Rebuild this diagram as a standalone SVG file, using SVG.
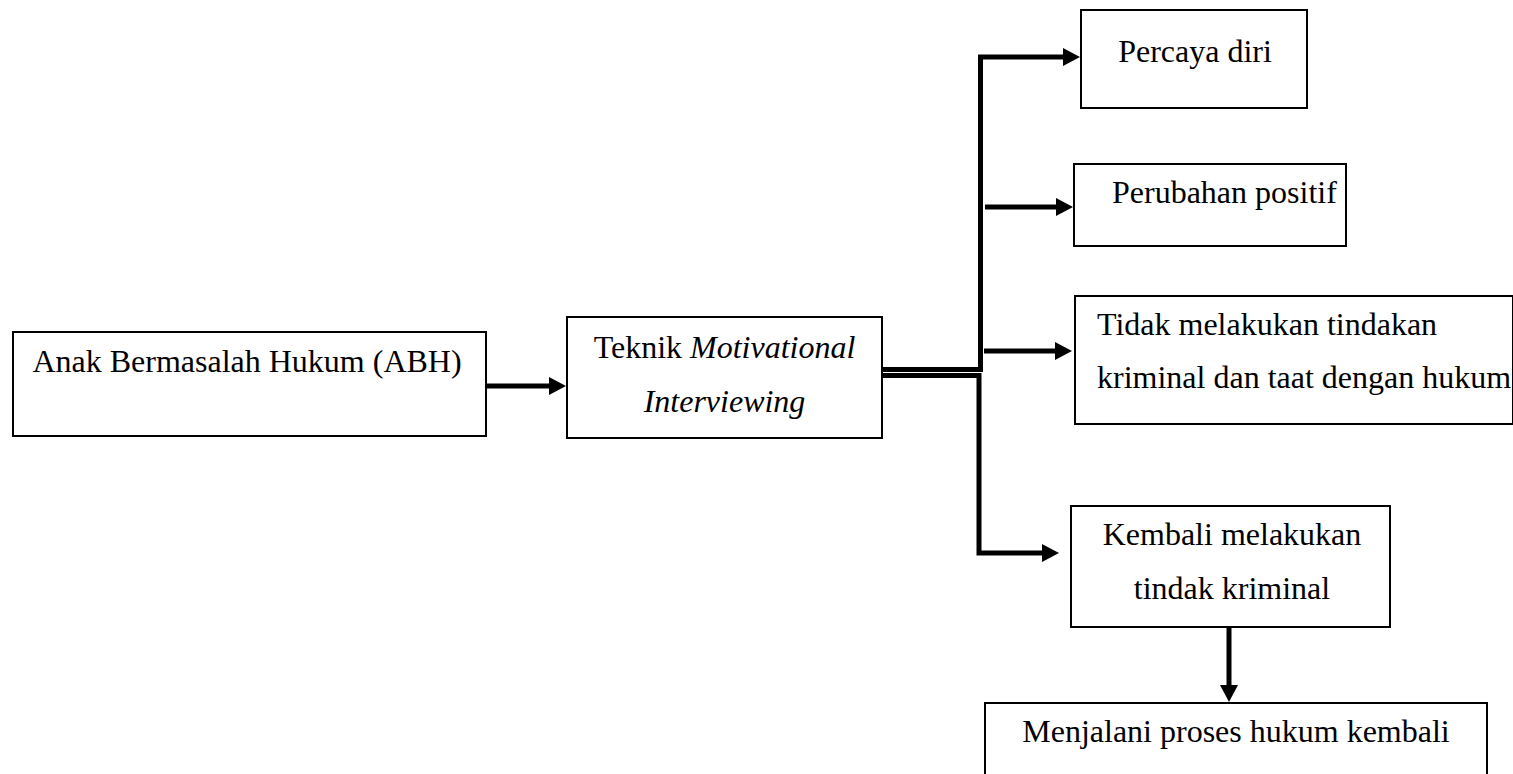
<svg xmlns="http://www.w3.org/2000/svg" width="1513" height="774" viewBox="0 0 1513 774">
<style>
.box{fill:#fff;stroke:#000;stroke-width:2}
.t{font-family:"Liberation Serif","Times New Roman",serif;font-size:32px;fill:#000}
.c{text-anchor:middle}
.i{font-style:italic}
.ln{fill:none;stroke:#000;stroke-width:5}
</style>
<defs>
<marker id="ah" markerUnits="userSpaceOnUse" markerWidth="18" markerHeight="18" refX="0" refY="9" orient="auto" overflow="visible">
<path d="M0,0 L17,9 L0,18 Z" fill="#000"/>
</marker>
</defs>
<rect width="1513" height="774" fill="#fff"/>
<g id="connectors">
<path class="ln" d="M487,386 H549" marker-end="url(#ah)"/>
<path class="ln" d="M882,369.5 H980.5 V57 H1063" marker-end="url(#ah)"/>
<path class="ln" d="M882,375.5 H979 V553 H1042" marker-end="url(#ah)"/>
<path class="ln" d="M985,207 H1056" marker-end="url(#ah)"/>
<path class="ln" d="M984,351 H1055" marker-end="url(#ah)"/>
<path class="ln" d="M1229,627 V685" marker-end="url(#ah)"/>
</g>
<g id="abh">
<rect class="box" x="13" y="332" width="473" height="104"/>
<text class="t c" x="247" y="372">Anak Bermasalah Hukum (ABH)</text>
</g>
<g id="teknik">
<rect class="box" x="567" y="317" width="315" height="121"/>
<text class="t c" x="724.5" y="358">Teknik <tspan class="i">Motivational</tspan></text>
<text class="t c i" x="724.5" y="412">Interviewing</text>
</g>
<g id="percaya">
<rect class="box" x="1081" y="10" width="226" height="98"/>
<text class="t c" x="1195" y="62">Percaya diri</text>
</g>
<g id="perubahan">
<rect class="box" x="1074" y="164" width="272" height="82"/>
<text class="t" x="1112" y="203">Perubahan positif</text>
</g>
<g id="tidak">
<rect class="box" x="1075" y="296" width="438" height="128"/>
<text class="t" x="1097" y="335">Tidak melakukan tindakan</text>
<text class="t" x="1097" y="388">kriminal dan taat dengan hukum</text>
</g>
<g id="kembali">
<rect class="box" x="1071" y="506" width="319" height="121"/>
<text class="t c" x="1232" y="545">Kembali melakukan</text>
<text class="t c" x="1232" y="599">tindak kriminal</text>
</g>
<g id="menjalani">
<rect class="box" x="985" y="703" width="502" height="85"/>
<text class="t c" x="1236" y="742">Menjalani proses hukum kembali</text>
</g>
</svg>
